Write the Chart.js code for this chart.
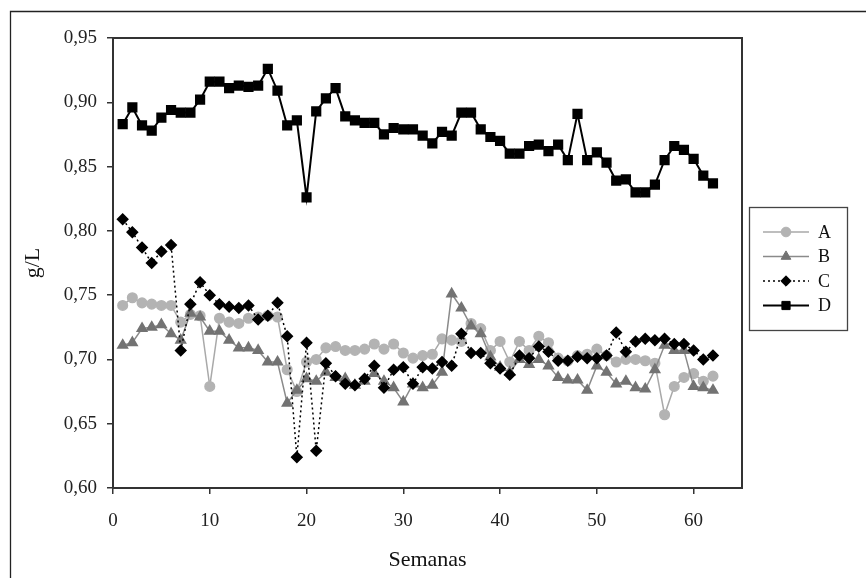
<!DOCTYPE html>
<html>
<head>
<meta charset="utf-8">
<title>g/L por semana</title>
<script src="https://cdn.jsdelivr.net/npm/chart.js@4.4.0/dist/chart.umd.min.js"></script>
<style>
    html, body { margin: 0; padding: 0; background: #fff; }
    #wrap { width: 866px; height: 578px; }
</style>
</head>
<body>
<div id="wrap"><canvas id="chartCanvas" width="866" height="578"></canvas></div>
<script>
// データ
const weeks = [1, 2, 3, 4, 5, 6, 7, 8, 9, 10, 11, 12, 13, 14, 15, 16, 17, 18, 19, 20,
    21, 22, 23, 24, 25, 26, 27, 28, 29, 30, 31, 32, 33, 34, 35, 36, 37, 38, 39, 40,
    41, 42, 43, 44, 45, 46, 47, 48, 49, 50, 51, 52, 53, 54, 55, 56, 57, 58, 59, 60, 61, 62];

const seriesNames = ['A', 'B', 'C', 'D'];

const valuesA = [0.742, 0.748, 0.744, 0.743, 0.742, 0.742, 0.729, 0.735, 0.734, 0.679,
    0.732, 0.729, 0.728, 0.732, 0.733, 0.734, 0.733, 0.692, 0.675, 0.698,
    0.700, 0.709, 0.710, 0.707, 0.707, 0.708, 0.712, 0.708, 0.712, 0.705,
    0.701, 0.703, 0.704, 0.716, 0.715, 0.714, 0.728, 0.724, 0.707, 0.714,
    0.698, 0.714, 0.707, 0.718, 0.713, 0.701, 0.699, 0.703, 0.704, 0.708,
    0.703, 0.698, 0.700, 0.700, 0.699, 0.697, 0.657, 0.679, 0.686, 0.689,
    0.683, 0.687];

const valuesB = [0.711, 0.713, 0.724, 0.725, 0.727, 0.720, 0.715, 0.736, 0.733, 0.722,
    0.722, 0.715, 0.709, 0.709, 0.707, 0.698, 0.698, 0.666, 0.676, 0.685,
    0.683, 0.690, 0.686, 0.685, 0.680, 0.683, 0.689, 0.683, 0.678, 0.667,
    0.681, 0.678, 0.680, 0.690, 0.751, 0.740, 0.726, 0.720, 0.702, 0.694,
    0.690, 0.700, 0.696, 0.700, 0.695, 0.686, 0.684, 0.684, 0.676, 0.695,
    0.690, 0.681, 0.683, 0.678, 0.677, 0.692, 0.711, 0.707, 0.707, 0.679,
    0.678, 0.676];

const valuesC = [0.809, 0.799, 0.787, 0.775, 0.784, 0.789, 0.707, 0.743, 0.760, 0.750,
    0.743, 0.741, 0.740, 0.742, 0.731, 0.734, 0.744, 0.718, 0.624, 0.713,
    0.629, 0.697, 0.687, 0.681, 0.680, 0.685, 0.695, 0.678, 0.692, 0.694,
    0.681, 0.694, 0.693, 0.698, 0.695, 0.720, 0.705, 0.705, 0.697, 0.693,
    0.688, 0.703, 0.701, 0.710, 0.706, 0.699, 0.699, 0.702, 0.701, 0.701,
    0.703, 0.721, 0.706, 0.714, 0.716, 0.715, 0.716, 0.712, 0.712, 0.707,
    0.700, 0.703];

const valuesD = [0.883, 0.896, 0.882, 0.878, 0.888, 0.894, 0.892, 0.892, 0.902, 0.916,
    0.916, 0.911, 0.913, 0.912, 0.913, 0.926, 0.909, 0.882, 0.886, 0.826,
    0.893, 0.903, 0.911, 0.889, 0.886, 0.884, 0.884, 0.875, 0.880, 0.879,
    0.879, 0.874, 0.868, 0.877, 0.874, 0.892, 0.892, 0.879, 0.873, 0.870,
    0.860, 0.860, 0.866, 0.867, 0.862, 0.867, 0.855, 0.891, 0.855, 0.861,
    0.853, 0.839, 0.840, 0.830, 0.830, 0.836, 0.855, 0.866, 0.863, 0.856,
    0.843, 0.837];

// 軸の範囲と目盛り
const xTicks = [0, 10, 20, 30, 40, 50, 60];
const xRange = [0, 65];
const yRange = [0.60, 0.95];
const yStep = 0.05;

const axisTitleX = 'Semanas';
const axisTitleY = 'g/L';

const FONT = '"Liberation Serif", "Times New Roman", serif';

// x,y の組を作る
function toPoints(values) {
    return weeks.map((w, i) => ({ x: w, y: values[i] }));
}

// 外枠・プロット枠・凡例
const framePlugin = {
    id: 'frame',
    beforeDraw(chart) {
        const ctx = chart.ctx;
        ctx.save();
        ctx.fillStyle = '#fff';
        ctx.fillRect(0, 0, chart.width, chart.height);
        ctx.strokeStyle = '#222';
        ctx.lineWidth = 1.3;
        ctx.beginPath();
        ctx.moveTo(10.5, chart.height);
        ctx.lineTo(10.5, 11.5);
        ctx.lineTo(chart.width, 11.5);
        ctx.stroke();
        ctx.restore();
    },
    afterDatasetsDraw(chart) {
        const ctx = chart.ctx;
        const { left, top, right, bottom } = chart.chartArea;
        ctx.save();
        ctx.strokeStyle = '#333';
        ctx.lineWidth = 2;
        ctx.strokeRect(left, top, right - left, bottom - top);
        ctx.restore();
    },
    afterDraw(chart) {
        const ctx = chart.ctx;
        ctx.save();
        ctx.strokeStyle = '#444';
        ctx.lineWidth = 1.3;
        ctx.strokeRect(749.5, 207.5, 98, 123);
        chart.data.datasets.forEach((ds, i) => {
            const y = 232 + i * 24.5;
            ctx.strokeStyle = ds.borderColor;
            ctx.lineWidth = ds.borderWidth;
            ctx.setLineDash(ds.borderDash || []);
            ctx.beginPath();
            ctx.moveTo(763, y);
            ctx.lineTo(809, y);
            ctx.stroke();
            ctx.setLineDash([]);
            ctx.fillStyle = ds.pointBackgroundColor;
            ctx.strokeStyle = ds.pointBorderColor;
            ctx.lineWidth = 1;
            Chart.helpers.drawPoint(ctx, {
                pointStyle: ds.pointStyle,
                radius: ds.pointRadius,
                rotation: 0,
                borderWidth: 1
            }, 786, y);
            ctx.fillStyle = '#111';
            ctx.font = '18px ' + FONT;
            ctx.textBaseline = 'middle';
            ctx.textAlign = 'left';
            ctx.fillText(ds.label, 818, y + 1);
        });
        ctx.restore();
    }
};

// グラフ作成
const ctx = document.getElementById('chartCanvas').getContext('2d');
const chart = new Chart(ctx, {
    type: 'line',
    data: {
        datasets: [
            {
                label: seriesNames[0],
                data: toPoints(valuesA),
                borderColor: '#a9a9a9',
                borderWidth: 1.5,
                pointStyle: 'circle',
                pointRadius: 4.8,
                pointBackgroundColor: '#b3b3b3',
                pointBorderColor: '#b3b3b3',
                order: 3
            },
            {
                label: seriesNames[1],
                data: toPoints(valuesB),
                borderColor: '#8a8a8a',
                borderWidth: 1.5,
                pointStyle: 'triangle',
                pointRadius: 5.6,
                pointBackgroundColor: '#737373',
                pointBorderColor: '#737373',
                order: 2
            },
            {
                label: seriesNames[2],
                data: toPoints(valuesC),
                borderColor: '#000',
                borderWidth: 1.5,
                borderDash: [2, 3],
                pointStyle: 'rectRot',
                pointRadius: 5.2,
                pointBackgroundColor: '#000',
                pointBorderColor: '#000',
                order: 0
            },
            {
                label: seriesNames[3],
                data: toPoints(valuesD),
                borderColor: '#000',
                borderWidth: 2,
                pointStyle: 'rect',
                pointRadius: 5.8,
                pointBackgroundColor: '#000',
                pointBorderColor: '#000',
                order: 1
            }
        ]
    },
    options: {
        responsive: false,
        animation: false,
        layout: { padding: { left: 0, top: 38, right: 124, bottom: 0 } },
        plugins: {
            legend: { display: false },
            tooltip: { enabled: false }
        },
        elements: { line: { tension: 0 } },
        scales: {
            x: {
                type: 'linear',
                min: xRange[0],
                max: xRange[1],
                afterFit: (scale) => { scale.height = 90; },
                afterBuildTicks: (scale) => {
                    scale.ticks = xTicks.map(v => ({ value: v }));
                },
                border: { display: false },
                grid: {
                    drawOnChartArea: false,
                    drawTicks: true,
                    tickLength: 6,
                    color: '#333',
                    lineWidth: 1.5
                },
                ticks: {
                    padding: 16,
                    maxRotation: 0,
                    color: '#222',
                    font: { family: FONT, size: 19 },
                    callback: (v) => String(v)
                },
                title: {
                    display: true,
                    text: axisTitleX,
                    color: '#111',
                    font: { family: FONT, size: 22 },
                    padding: { top: 0, bottom: 5 }
                }
            },
            y: {
                min: yRange[0],
                max: yRange[1],
                afterFit: (scale) => { scale.width = 113; },
                border: { display: false },
                grid: {
                    drawOnChartArea: false,
                    drawTicks: true,
                    tickLength: 6,
                    color: '#333',
                    lineWidth: 1.5
                },
                ticks: {
                    stepSize: yStep,
                    padding: 10,
                    color: '#222',
                    font: { family: FONT, size: 19 },
                    callback: (v) => v.toFixed(2).replace('.', ',')
                },
                title: {
                    display: true,
                    text: axisTitleY,
                    color: '#111',
                    font: { family: FONT, size: 22 },
                    padding: { top: 20, bottom: 0 }
                }
            }
        }
    },
    plugins: [framePlugin]
});
</script>
</body>
</html>
